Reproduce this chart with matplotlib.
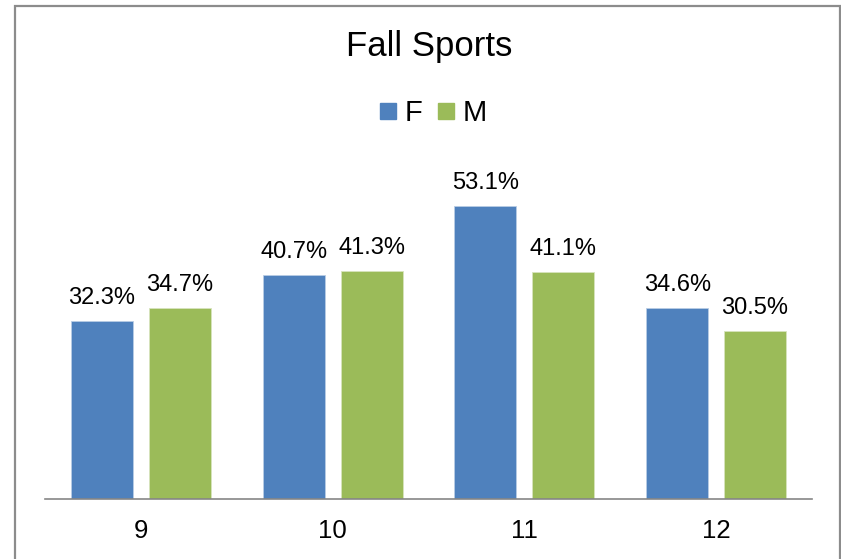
import matplotlib
matplotlib.use("Agg")
import matplotlib.pyplot as plt
import numpy as np
from matplotlib.lines import Line2D
from matplotlib.patches import Rectangle

plt.rcParams['font.family'] = ['Liberation Sans', 'DejaVu Sans']

grades = ["9", "10", "11", "12"]
female = [32.3, 40.7, 53.1, 34.6]
male = [34.7, 41.3, 41.1, 30.5]

blue = "#4F81BD"
green = "#9BBB59"

W, H = 841, 559
fig = plt.figure(figsize=(W / 100, H / 100), dpi=100)

# outer chart border (bottom edge is cut off in the original)
fig.patches.append(Rectangle((15.5 / W, -0.05), (839.5 - 15.5) / W, 1 - 5.5 / H + 0.05,
                             transform=fig.transFigure, fill=False,
                             edgecolor="#8c8c8c", lw=1.6))

ax = fig.add_axes([45 / W, 60.5 / H, 767 / W, 330 / H])

x = np.arange(len(grades))
bw = 0.323
off = 0.203
bars_f = ax.bar(x - off, female, bw, color=blue, edgecolor="#b9cde5", linewidth=0.6)
bars_m = ax.bar(x + off, male, bw, color=green, edgecolor="#d7e4bd", linewidth=0.6)

for bars, vals in ((bars_f, female), (bars_m, male)):
    for b, v in zip(bars, vals):
        ax.annotate(f"{v:.1f}%", (b.get_x() + b.get_width() / 2, v),
                    xytext=(0, 12.3), textcoords="offset points",
                    ha="center", va="baseline", fontsize=17)

ax.set_xlim(-0.5, 3.5)
ax.set_ylim(0, 60)
ax.set_xticks(x)
ax.set_xticklabels(grades, fontsize=18.5)
ax.tick_params(axis="x", length=0, pad=15)
ax.set_yticks([])
for s in ("left", "right", "top"):
    ax.spines[s].set_visible(False)
ax.spines["bottom"].set_color("#868686")
ax.spines["bottom"].set_linewidth(1.2)

fig.text(429 / W, 1 - 55.7 / H, "Fall Sports", ha="center", va="baseline", fontsize=25)

handles = [Line2D([], [], marker="s", ls="none", color=blue, markersize=11.5),
           Line2D([], [], marker="s", ls="none", color=green, markersize=11.5)]
fig.legend(handles, ["F", "M"], loc="center", bbox_to_anchor=(432 / W, 1 - 113 / H),
           ncol=2, frameon=False, fontsize=21, handlelength=0.75,
           handletextpad=0.2, columnspacing=0.45, borderpad=0)

fig.savefig("out.png", dpi=100)
